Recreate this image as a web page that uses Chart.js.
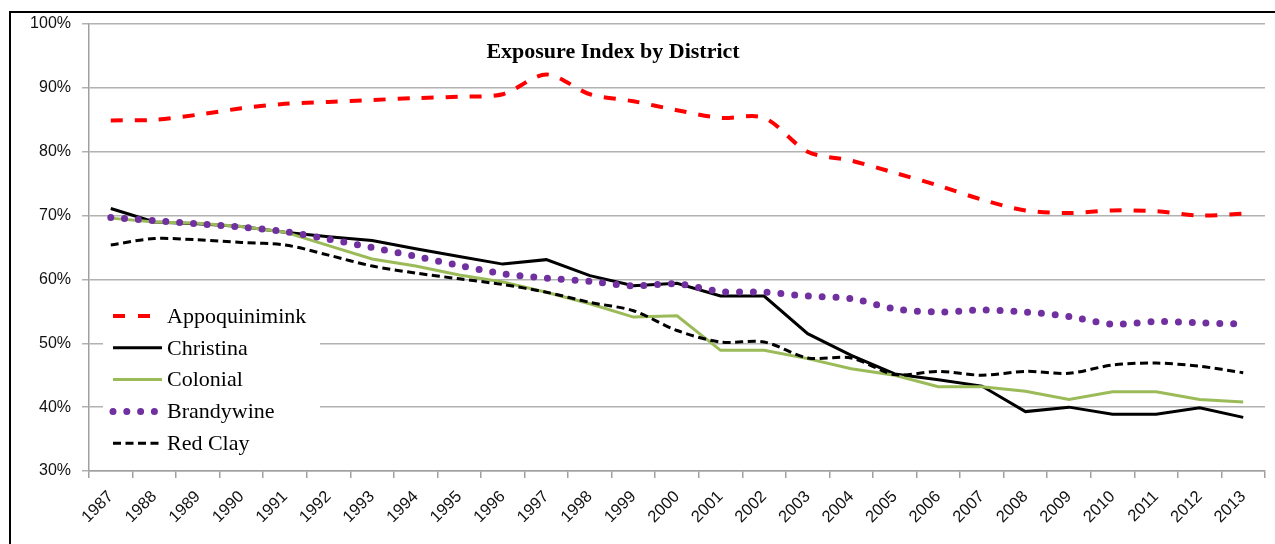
<!DOCTYPE html>
<html>
<head>
<meta charset="utf-8">
<title>Exposure Index by District</title>
<script src="https://cdn.jsdelivr.net/npm/chart.js@4.4.1/dist/chart.umd.min.js"></script>
<style>
  html, body { margin: 0; padding: 0; background: #fff; }
  #wrap { position: relative; width: 1275px; height: 544px; overflow: hidden; }
  #frame {
    position: absolute; left: 9px; top: 11px; width: 1300px; height: 600px;
    border-top: 2px solid #000; border-left: 2px solid #000;
  }
  #lineChart { position: absolute; left: 0; top: 0; }
</style>
</head>
<body>
<div id="wrap">
  <div id="frame"></div>
  <canvas id="lineChart" width="1275" height="544"></canvas>
</div>
<script>
const years = ["1987", "1988", "1989", "1990", "1991", "1992", "1993", "1994", "1995",
  "1996", "1997", "1998", "1999", "2000", "2001", "2002", "2003", "2004", "2005",
  "2006", "2007", "2008", "2009", "2010", "2011", "2012", "2013"];

const seriesNames = ["Appoquinimink", "Christina", "Colonial", "Brandywine", "Red Clay"];

const appoquinimink = [84.9, 85.0, 85.8, 86.8, 87.5, 87.8, 88.1, 88.4, 88.6, 89.0, 92.1, 89.0, 87.9,
  86.5, 85.3, 85.3, 80.0, 78.6, 76.7, 74.7, 72.5, 70.8, 70.4, 70.8, 70.7, 70.0, 70.3];
const christina = [71.1, 69.0, 68.7, 68.3, 67.4, 66.7, 66.1, 64.8, 63.6, 62.4, 63.1, 60.6, 59.0,
  59.4, 57.4, 57.4, 51.5, 48.1, 45.2, 44.3, 43.3, 39.3, 40.0, 38.9, 38.9, 39.9, 38.4];
const colonial = [69.6, 69.0, 68.8, 68.3, 67.4, 65.3, 63.2, 62.1, 60.7, 59.6, 58.0, 56.2, 54.1,
  54.3, 48.9, 48.9, 47.6, 46.0, 45.0, 43.2, 43.2, 42.5, 41.2, 42.4, 42.4, 41.2, 40.8];
const brandywine = [69.7, 69.2, 68.7, 68.2, 67.5, 66.3, 65.0, 63.6, 62.2, 60.9, 60.2, 59.7, 59.0,
  59.3, 58.1, 58.0, 57.4, 57.0, 55.4, 54.9, 55.2, 54.9, 54.2, 53.0, 53.4, 53.2, 53.0];
const redClay = [65.4, 66.4, 66.2, 65.8, 65.4, 63.8, 62.1, 61.0, 60.1, 59.2, 58.0, 56.4, 55.1,
  52.0, 50.2, 50.2, 47.7, 47.7, 45.1, 45.6, 45.0, 45.6, 45.3, 46.6, 46.9, 46.4, 45.4];

const yMin = 30;
const yMax = 100;
const yStep = 10;
const chartTitle = "Exposure Index by District";

// title drawn inside the plot area, like the original
const titleInside = {
  id: "titleInside",
  afterDraw(chart) {
    const { ctx, chartArea } = chart;
    ctx.save();
    ctx.font = "bold 22px 'Liberation Serif', 'Times New Roman', serif";
    ctx.fillStyle = "#000";
    ctx.textAlign = "center";
    ctx.textBaseline = "middle";
    ctx.fillText(chartTitle, (chartArea.left + chartArea.right) / 2 - 64, chartArea.top + 28);
    ctx.restore();
  },
};

// legend boxed inside the chart area on the left
const insideLegend = {
  id: "insideLegend",
  beforeDatasetsDraw(chart) {
    const { ctx, chartArea } = chart;
    const x0 = chartArea.left + 24;
    const y0 = chartArea.top + 292;
    ctx.save();
    ctx.fillStyle = "#fff";
    ctx.fillRect(chartArea.left + 14, y0 - 17, 217, 160);
    ctx.font = "22px 'Liberation Serif', 'Times New Roman', serif";
    ctx.textBaseline = "middle";
    chart.data.datasets.forEach((ds, i) => {
      const y = y0 + i * 31.8;
      ctx.beginPath();
      ctx.strokeStyle = ds.borderColor;
      ctx.lineWidth = ds.borderWidth;
      ctx.lineCap = ds.borderCapStyle || "butt";
      ctx.setLineDash(ds.legendDash || ds.borderDash || []);
      ctx.moveTo(x0, y);
      ctx.lineTo(x0 + 49, y);
      ctx.stroke();
      ctx.setLineDash([]);
      ctx.fillStyle = "#000";
      ctx.fillText(ds.label, x0 + 54, y + 1);
    });
    ctx.restore();
  },
};

document.addEventListener("DOMContentLoaded", () => {
  const ctx = document.getElementById("lineChart").getContext("2d");
  const lineChart = new Chart(ctx, {
    type: "line",
    data: {
      labels: years,
      datasets: [
        {
          label: seriesNames[0],
          data: appoquinimink,
          borderColor: "#FF0000",
          borderWidth: 4,
          borderDash: [12, 12],
          legendDash: [12, 13],
          tension: 0.3,
          order: 5,
        },
        {
          label: seriesNames[1],
          data: christina,
          borderColor: "#000000",
          borderWidth: 3,
          tension: 0,
          order: 4,
        },
        {
          label: seriesNames[2],
          data: colonial,
          borderColor: "#9BBB59",
          borderWidth: 3,
          tension: 0,
          order: 3,
        },
        {
          label: seriesNames[3],
          data: brandywine,
          borderColor: "#7030A0",
          borderWidth: 7,
          borderDash: [0, 13.8],
          borderCapStyle: "round",
          tension: 0.3,
          order: 2,
        },
        {
          label: seriesNames[4],
          data: redClay,
          borderColor: "#000000",
          borderWidth: 3,
          borderDash: [8, 4.5],
          tension: 0.3,
          order: 1,
        },
      ],
    },
    options: {
      responsive: false,
      animation: false,
      events: [],
      elements: {
        point: { radius: 0 },
      },
      layout: {
        padding: { left: 0, right: 10, top: 24, bottom: 0 },
      },
      plugins: {
        legend: { display: false },
        title: { display: false },
        tooltip: { enabled: false },
      },
      scales: {
        x: {
          type: "category",
          offset: true,
          grid: {
            offset: true,
            drawOnChartArea: false,
            drawTicks: true,
            tickLength: 7,
            color: "#A0A0A0",
            lineWidth: 1.5,
          },
          border: { color: "#A0A0A0", width: 1.5 },
          ticks: {
            autoSkip: false,
            minRotation: 45,
            maxRotation: 45,
            padding: 9,
            color: "#111",
            font: { family: "'Liberation Sans', Arial, sans-serif", size: 16.5 },
          },
          afterFit(scale) {
            scale.height = 73;
          },
        },
        y: {
          min: yMin,
          max: yMax,
          grid: {
            color: "#B2B2B2",
            lineWidth: 1.5,
            tickLength: 7,
          },
          border: { color: "#A0A0A0", width: 1.5 },
          ticks: {
            stepSize: yStep,
            padding: 11,
            color: "#111",
            font: { family: "'Liberation Sans', Arial, sans-serif", size: 16 },
            callback: (v) => v + "%",
          },
          afterFit(scale) {
            scale.width = 89;
          },
        },
      },
    },
    plugins: [insideLegend, titleInside],
  });
});
</script>
</body>
</html>
